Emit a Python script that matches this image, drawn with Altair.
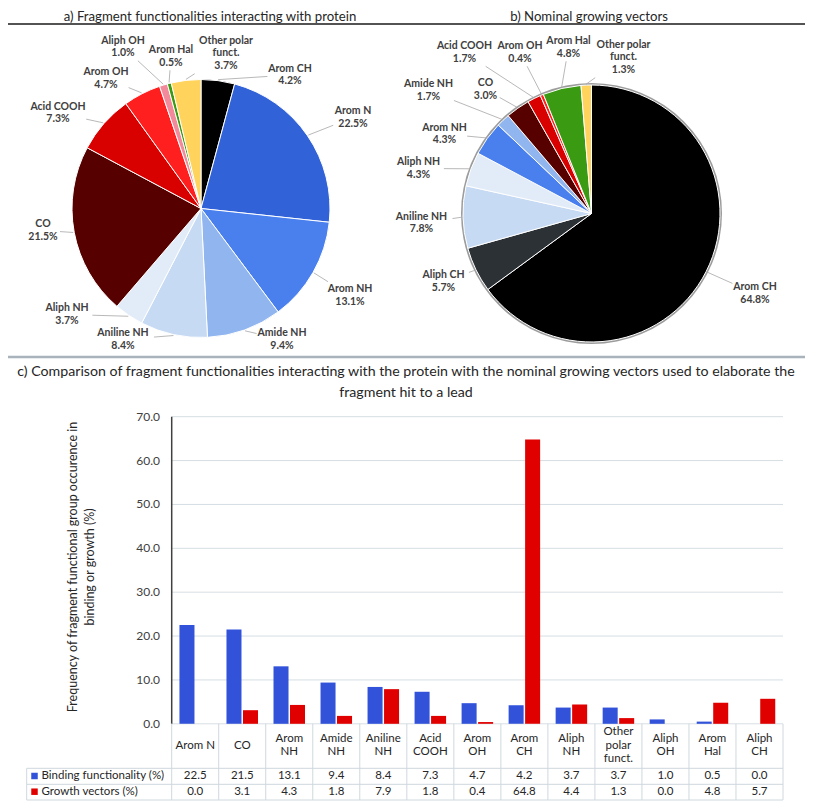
import math
import altair as alt
import pandas as pd

# ---------------- data ----------------
pie_a_cats = ["Arom CH", "Arom N", "Arom NH", "Amide NH", "Aniline NH", "Aliph NH",
              "CO", "Acid COOH", "Arom OH", "Aliph OH", "Arom Hal", "Other polar funct."]
pie_a_vals = [4.2, 22.5, 13.1, 9.4, 8.4, 3.7, 21.5, 7.3, 4.7, 1.0, 0.5, 3.7]

pie_b_cats = ["Arom CH", "Aliph CH", "Aniline NH", "Aliph NH", "Arom NH", "Amide NH",
              "CO", "Acid COOH", "Arom OH", "Arom Hal", "Other polar funct."]
pie_b_vals = [64.8, 5.7, 7.8, 4.3, 4.3, 1.7, 3.0, 1.7, 0.4, 4.8, 1.3]

bar_cats = ["Arom N", "CO", "Arom NH", "Amide NH", "Aniline NH", "Acid COOH", "Arom OH",
            "Arom CH", "Aliph NH", "Other polar funct.", "Aliph OH", "Arom Hal", "Aliph CH"]
bar_cat_labels = ["Arom N", "CO", "Arom\nNH", "Amide\nNH", "Aniline\nNH", "Acid\nCOOH", "Arom\nOH",
                  "Arom\nCH", "Aliph\nNH", "Other\npolar\nfunct.", "Aliph\nOH", "Arom\nHal", "Aliph\nCH"]
binding_vals = [22.5, 21.5, 13.1, 9.4, 8.4, 7.3, 4.7, 4.2, 3.7, 3.7, 1.0, 0.5, 0.0]
growth_vals = [0.0, 3.1, 4.3, 1.8, 7.9, 1.8, 0.4, 64.8, 4.4, 1.3, 0.0, 4.8, 5.7]
series_names = ["Binding functionality (%)", "Growth vectors (%)"]
y_ticks = [0, 10, 20, 30, 40, 50, 60, 70]

title_a = "a) Fragment functionalities interacting with protein"
title_b = "b) Nominal growing vectors"
title_c = ("c) Comparison of fragment functionalities interacting with the protein with the nominal "
           "growing vectors used to elaborate the\nfragment hit to a lead")
y_title = "Frequency of  fragment functional group occurence  in\nbinding or growth (%)"

# ---------------- styles ----------------
cat_colors = {
    "Arom CH": "#000000", "Aliph CH": "#2c3136", "Arom N": "#3262d8", "Arom NH": "#4a7fee",
    "Amide NH": "#90b5ef", "Aniline NH": "#c6daf4", "Aliph NH": "#e2ecf8", "CO": "#560000",
    "Acid COOH": "#d90000", "Arom OH": "#ff1f1f", "Aliph OH": "#f28a9b", "Arom Hal": "#3a9a12",
    "Other polar funct.": "#ffd35c",
}
series_colors = ["#3152d9", "#e00000"]
FONT = "Lato, Roboto, sans-serif"
LINE = "#cfd8de"
TXT = "#262626"
LBL_SIZE, LBL_LH = 10.5, 12.7
TAB_SIZE, TAB_LH = 11.5, 13.5

# ---------------- layout (chart pixel coordinates) ----------------
W, H = 797, 795
A_CX, A_CY, A_R = 193, 200.5, 129
B_CX, B_CY, B_R = 583.5, 205.5, 128.5
pie_a_label_dx = [89, 152, 149, 81, -78, -134, -158, -143, -95, -78, -30, 25]
pie_a_label_dy = [-133.5, -91, 87, 131, 131, 106, 22, -95.5, -130, -161.5, -152, -155]
pie_b_label_dx = [163.5, -148, -170, -173, -147, -163, -106, -127, -71.5, -23, 32]
pie_b_label_dy = [80, 68, 9.5, -45, -79.5, -123, -124, -161, -161, -166, -156]
X0, X1 = 163.7, 775.0          # bar plot horizontal extent
Y0, Y70 = 715.8, 408.7         # pixel of value 0 and 70
ROW_CAT, ROW1, ROW2 = 737.7, 768.0, 783.7
ROW_LINES = [760.3, 776.3, 792.0]
TABLE_LEFT = 18.7


def label_text(cat, v):
    name = "Other polar\nfunct." if cat == "Other polar funct." else cat
    return f"{name}\n{v:.1f}%"


def pie_frames(cats, vals, cx, cy, R, dxs, dys):
    total = sum(vals)
    cum = 0.0
    arcs, labels, leaders = [], [], []
    for i, (c, v, dx, dy) in enumerate(zip(cats, vals, dxs, dys)):
        mid = (cum + v / 2) / total * 2 * math.pi
        cum += v
        arcs.append({"cat": c, "v": v, "i": i, "col": cat_colors[c]})
        txt = label_text(c, v)
        lines = txt.split("\n")
        lx, ly = cx + dx, cy + dy
        # first line of a multi-line text sits on the anchor: shift so the block is centred
        labels.append({"t": txt, "px": lx, "py": ly - (len(lines) - 1) * LBL_LH / 2})
        sx = cx + (R + 1) * math.sin(mid)
        sy = cy - (R + 1) * math.cos(mid)
        hw = max(len(s) for s in lines) * 2.8 + 3
        hh = len(lines) * 6.4 + 1
        vx, vy = sx - lx, sy - ly
        t = min(hw / abs(vx) if vx else 1e9, hh / abs(vy) if vy else 1e9)
        if t < 1:
            leaders.append({"x": sx, "y": sy, "x2": lx + t * vx, "y2": ly + t * vy})
    return pd.DataFrame(arcs), pd.DataFrame(labels), pd.DataFrame(leaders), total


def pie_layers(cats, vals, cx, cy, R, dxs, dys, rim=None):
    arcs, labels, leaders, total = pie_frames(cats, vals, cx, cy, R, dxs, dys)
    out = []
    if rim:
        out.append(alt.Chart(pd.DataFrame({"v": [1]})).mark_arc(outerRadius=R + 2, color=rim).encode(
            theta=alt.Theta("v:Q", scale=alt.Scale(domain=[0, 1])),
            x=alt.value(cx), y=alt.value(cy)))
    out.append(alt.Chart(arcs).mark_arc(outerRadius=R, stroke="white", strokeWidth=1).encode(
        theta=alt.Theta("v:Q", stack=True, scale=alt.Scale(domain=[0, total])),
        order=alt.Order("i:Q"),
        color=alt.Color("col:N", scale=None),
        x=alt.value(cx), y=alt.value(cy)))
    out.append(alt.Chart(leaders).mark_rule(color="#a6a6a6", strokeWidth=0.8).encode(
        x=alt.X("x:Q", scale=None, axis=None), y=alt.Y("y:Q", scale=None, axis=None),
        x2="x2:Q", y2="y2:Q"))
    out.append(alt.Chart(labels).mark_text(font=FONT, fontSize=LBL_SIZE, fontWeight="bold", color="#404040",
                                          lineBreak="\n", lineHeight=LBL_LH, align="center",
                                          baseline="middle").encode(
        x=alt.X("px:Q", scale=None, axis=None), y=alt.Y("py:Q", scale=None, axis=None), text="t:N"))
    return out


one = pd.DataFrame({"k": [0]})
layers = []

# titles and separator lines
layers.append(alt.Chart(pd.DataFrame({"t": [title_a, title_b], "px": [202, 581]})).mark_text(
    font=FONT, fontSize=13.2, color=TXT, baseline="middle").encode(
    x=alt.X("px:Q", scale=None, axis=None), y=alt.value(8.5), text="t:N"))
layers.append(alt.Chart(one).mark_rule(color="#1a1a1a", strokeWidth=1.5).encode(
    x=alt.value(0), x2=alt.value(W), y=alt.value(16)))
layers.append(alt.Chart(one).mark_rule(color="#a9b3bb", strokeWidth=2.5).encode(
    x=alt.value(0), x2=alt.value(W), y=alt.value(349)))
layers.append(alt.Chart(pd.DataFrame({"t": [title_c]})).mark_text(
    font=FONT, fontSize=14.2, color=TXT, lineBreak="\n", lineHeight=21, baseline="middle").encode(
    x=alt.value(398), y=alt.value(364), text="t:N"))

# pies
layers += pie_layers(pie_a_cats, pie_a_vals, A_CX, A_CY, A_R, pie_a_label_dx, pie_a_label_dy)
layers += pie_layers(pie_b_cats, pie_b_vals, B_CX, B_CY, B_R, pie_b_label_dx, pie_b_label_dy, rim="#9c9c9c")

# bar chart
x_scale = alt.Scale(domain=bar_cats, range=[X0, X1], paddingInner=0, paddingOuter=0)
y_scale = alt.Scale(domain=[0, 70], range=[Y0, Y70], nice=False, zero=False)

ticks = pd.DataFrame({"t": y_ticks})
layers.append(alt.Chart(ticks).mark_rule(color="#d6dee3", strokeWidth=1).encode(
    y=alt.Y("t:Q", scale=y_scale, axis=None), x=alt.value(X0), x2=alt.value(X1)))
layers.append(alt.Chart(ticks).mark_text(font=FONT, fontSize=12, color="#404040", align="right",
                                         baseline="middle").encode(
    y=alt.Y("t:Q", scale=y_scale, axis=None), x=alt.value(152), text=alt.Text("t:Q", format=".1f")))
layers.append(alt.Chart(one).mark_rule(color="#404040", strokeWidth=1.5).encode(
    x=alt.value(X0), y=alt.value(Y70), y2=alt.value(Y0)))

bars = pd.DataFrame(
    [{"cat": c, "series": series_names[0], "value": b, "col": series_colors[0]}
     for c, b in zip(bar_cats, binding_vals)] +
    [{"cat": c, "series": series_names[1], "value": g, "col": series_colors[1]}
     for c, g in zip(bar_cats, growth_vals)])
layers.append(alt.Chart(bars).mark_bar().encode(
    x=alt.X("cat:N", sort=bar_cats, scale=x_scale, axis=None),
    xOffset=alt.XOffset("series:N", sort=series_names,
                        scale=alt.Scale(domain=series_names, paddingInner=0.09, paddingOuter=0.47)),
    y=alt.Y("value:Q", scale=y_scale, axis=None),
    color=alt.Color("col:N", scale=None)))

# data table under the chart
cats_df = pd.DataFrame({"cat": bar_cats, "lab": bar_cat_labels,
                        "ly": [ROW_CAT - (l.count("\n")) * TAB_LH / 2 for l in bar_cat_labels],
                        "b": [f"{v:.1f}" for v in binding_vals],
                        "g": [f"{v:.1f}" for v in growth_vals]})
layers.append(alt.Chart(cats_df).mark_rule(color=LINE, strokeWidth=1).encode(
    x=alt.X("cat:N", sort=bar_cats, scale=x_scale, axis=None, bandPosition=0),
    y=alt.value(Y0), y2=alt.value(ROW_LINES[-1])))
layers.append(alt.Chart(one).mark_rule(color=LINE, strokeWidth=1).encode(
    x=alt.value(X1), y=alt.value(Y0), y2=alt.value(ROW_LINES[-1])))
layers.append(alt.Chart(one).mark_rule(color=LINE, strokeWidth=1).encode(
    x=alt.value(TABLE_LEFT), y=alt.value(ROW_LINES[0]), y2=alt.value(ROW_LINES[-1])))
for yl in ROW_LINES:
    layers.append(alt.Chart(one).mark_rule(color=LINE, strokeWidth=1).encode(
        x=alt.value(TABLE_LEFT), x2=alt.value(X1), y=alt.value(yl)))
layers.append(alt.Chart(cats_df).mark_text(font=FONT, fontSize=TAB_SIZE, color=TXT, lineBreak="\n",
                                           lineHeight=TAB_LH, baseline="middle").encode(
    x=alt.X("cat:N", sort=bar_cats, scale=x_scale, axis=None),
    y=alt.Y("ly:Q", scale=None, axis=None), text="lab:N"))
layers.append(alt.Chart(cats_df).mark_text(font=FONT, fontSize=TAB_SIZE, color=TXT, baseline="middle").encode(
    x=alt.X("cat:N", sort=bar_cats, scale=x_scale, axis=None), y=alt.value(ROW1), text="b:N"))
layers.append(alt.Chart(cats_df).mark_text(font=FONT, fontSize=TAB_SIZE, color=TXT, baseline="middle").encode(
    x=alt.X("cat:N", sort=bar_cats, scale=x_scale, axis=None), y=alt.value(ROW2), text="g:N"))

legend_df = pd.DataFrame({"s": series_names, "col": series_colors, "py": [ROW1, ROW2]})
layers.append(alt.Chart(legend_df).mark_square(size=42, opacity=1).encode(
    x=alt.value(26.5), y=alt.Y("py:Q", scale=None, axis=None), color=alt.Color("col:N", scale=None)))
layers.append(alt.Chart(legend_df).mark_text(font=FONT, fontSize=TAB_SIZE, color=TXT, align="left",
                                             baseline="middle").encode(
    x=alt.value(33.5), y=alt.Y("py:Q", scale=None, axis=None), text="s:N"))

# y axis title
layers.append(alt.Chart(pd.DataFrame({"t": [y_title]})).mark_text(
    font=FONT, fontSize=12.5, color=TXT, angle=270, lineBreak="\n", lineHeight=17,
    baseline="middle").encode(x=alt.value(65), y=alt.value(559), text="t:N"))

chart = alt.layer(*layers).resolve_scale(
    x="independent", y="independent", theta="independent"
).properties(
    width=W, height=H, padding=0, autosize=alt.AutoSizeParams(type="none")
).configure_view(stroke=None)

chart.save("out.html", embed_options={"renderer": "svg", "actions": False})
